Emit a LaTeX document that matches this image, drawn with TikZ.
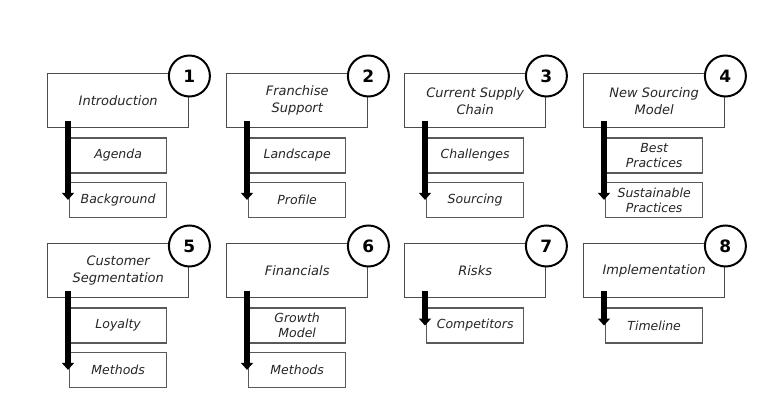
\documentclass[tikz,border=0pt]{standalone}
\usepackage{fontspec}
\newfontfamily\handFont{DejaVu Sans}
\usetikzlibrary{positioning}
\usetikzlibrary{arrows.meta}
\newcommand{\topicBox}[5]{%%
  %% The topic box.
  \node[topicStyle] (#1) at (#2,#3) {#5};
  %% The number on its corner.
  \node[numberStyle] (#1Num) at ([yshift=-3pt]#1.north east) {#4};
}
\newcommand{\firstItem}[3]{%%
  \node[itemStyle,below right=9pt and 22pt of #1.south west] (#2) {#3};
}
\newcommand{\nextItem}[3]{%%
  \node[itemStyle,below=8pt of #1] (#2) {#3};
}
\newcommand{\itemArrow}[3]{%%
  %% A thick bar from the topic down to its last item.
  \draw[barStyle] ([xshift=-1pt,yshift=7pt]#2.west |- #1.south) -- ([xshift=-1pt]#3.west);
}

\begin{document}
\begin{tikzpicture}[%%
  x=1pt,y=-1pt,%%
  topicStyle/.style={draw=black!70,line width=1.4pt,anchor=north west,align=center,%%
    minimum width=141pt,minimum height=54pt,inner sep=2pt,%%
    font=\handFont\itshape\fontsize{13}{17}\selectfont,text=black!85},%%
  itemStyle/.style={draw=black!65,line width=1.3pt,align=center,%%
    minimum width=97pt,minimum height=35pt,inner sep=1pt,%%
    font=\handFont\itshape\fontsize{12.5}{15}\selectfont,text=black!85},%%
  numberStyle/.style={circle,draw,line width=2pt,fill=white,minimum size=41pt,inner sep=0pt,%%
    font=\handFont\bfseries\fontsize{17}{17}\selectfont},%%
  barStyle/.style={line width=6pt,-{Triangle[width=12pt,length=7pt]}}%%
]
\useasboundingbox[fill=white] (0,0) rectangle (777,411);
%%
%% First row.
\topicBox{intro}{47}{73}{1}{Introduction}
\firstItem{intro}{agenda}{Agenda}
\nextItem{agenda}{background}{Background}
\itemArrow{intro}{agenda}{background}
%%
\topicBox{franchise}{226}{73}{2}{Franchise\\Support}
\firstItem{franchise}{landscape}{Landscape}
\nextItem{landscape}{profile}{Profile}
\itemArrow{franchise}{landscape}{profile}
%%
\topicBox{supply}{404}{73}{3}{Current Supply\\Chain}
\firstItem{supply}{challenges}{Challenges}
\nextItem{challenges}{sourcing}{Sourcing}
\itemArrow{supply}{challenges}{sourcing}
%%
\topicBox{model}{583}{73}{4}{New Sourcing\\Model}
\firstItem{model}{best}{Best\\Practices}
\nextItem{best}{sustainable}{Sustainable\\Practices}
\itemArrow{model}{best}{sustainable}
%%
%% Second row.
\topicBox{customer}{47}{243}{5}{Customer\\Segmentation}
\firstItem{customer}{loyalty}{Loyalty}
\nextItem{loyalty}{methodsA}{Methods}
\itemArrow{customer}{loyalty}{methodsA}
%%
\topicBox{financials}{226}{243}{6}{Financials}
\firstItem{financials}{growth}{Growth\\Model}
\nextItem{growth}{methodsB}{Methods}
\itemArrow{financials}{growth}{methodsB}
%%
\topicBox{risks}{404}{243}{7}{Risks}
\firstItem{risks}{competitors}{Competitors}
\itemArrow{risks}{competitors}{competitors}
%%
\topicBox{implementation}{583}{243}{8}{Implementation}
\firstItem{implementation}{timeline}{Timeline}
\itemArrow{implementation}{timeline}{timeline}
\end{tikzpicture}
\end{document}
